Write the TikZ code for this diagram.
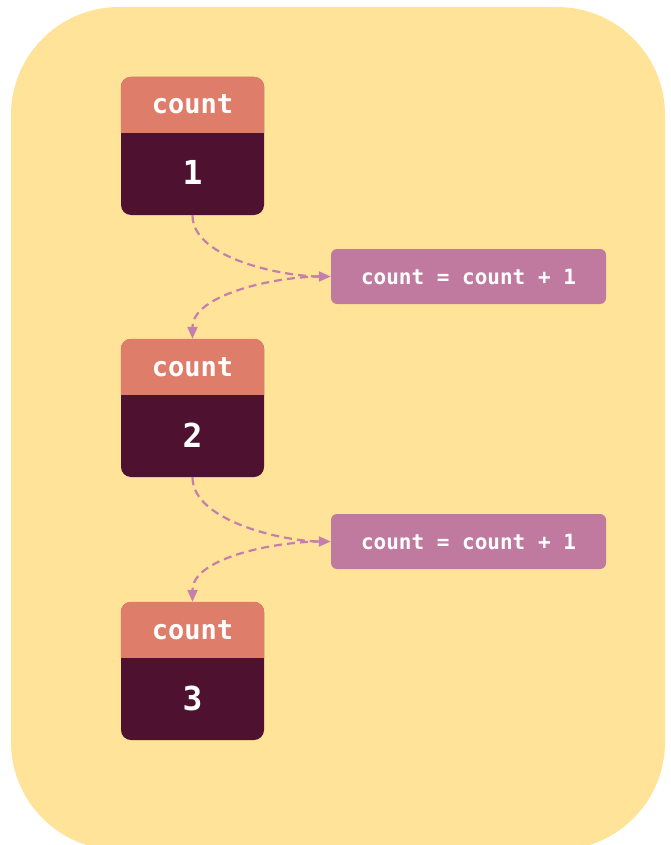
\documentclass[tikz,border=0pt]{standalone}
\usepackage{fontspec}
\setmonofont{DejaVu Sans Mono}
\usetikzlibrary{arrows.meta}
\definecolor{bg}{HTML}{FEE398}
\definecolor{hdr}{HTML}{DF7D6B}
\definecolor{bod}{HTML}{4E1130}
\definecolor{opc}{HTML}{C07AA0}
\definecolor{arr}{HTML}{C47FAA}
\begin{document}
\begin{tikzpicture}[x=1pt,y=-1pt,
 box/.style={fill=bod, rounded corners=10pt, minimum width=143pt, minimum height=138pt, inner sep=0pt},
 hdrtxt/.style={text=white, anchor=base, inner sep=0pt, font=\ttfamily\bfseries\fontsize{27}{27}\selectfont},
 valtxt/.style={text=white, anchor=base, inner sep=0pt, font=\ttfamily\bfseries\fontsize{33}{33}\selectfont},
 opbox/.style={fill=opc, rounded corners=6pt, minimum width=275pt, minimum height=55pt, text=white, font=\ttfamily\bfseries\fontsize{21}{21}\selectfont, inner sep=0pt},
 flow/.style={draw=arr, line width=2.2pt, dash pattern=on 8pt off 5pt, -{Triangle[length=12pt,width=10pt]}}]
\useasboundingbox (0,0) rectangle (670,845);
\clip (0,0) rectangle (670,845);
\fill[bg, rounded corners=108pt] (11,7) rectangle (665,850);
% boxes
\foreach \n/\y/\v in {1/0/1, 2/262/2, 3/525/3}{
  \node[box] (b\n) at (192.5,146+\y) {};
  \fill[hdr] ([yshift=-56pt]b\n.north west) [rounded corners=10pt] |- (b\n.north east) [sharp corners] -- ([yshift=-56pt]b\n.north east) -- cycle;
  \node[hdrtxt] (h\n) at (192.5,114+\y) {count};
  \node[valtxt] (v\n) at (192.5,185+\y) {\v};
}
\node[opbox] (o1) at (468.5,276.5) {count = count + 1};
\node[opbox] (o2) at (468.5,541.5) {count = count + 1};
\draw[flow] (b1.south) to[out=-90,in=180,looseness=0.75] (o1.west);
\draw[flow] ([xshift=-10pt]o1.west) to[out=180,in=90,looseness=0.8] (b2.north);
\draw[flow] (b2.south) to[out=-90,in=180,looseness=0.75] (o2.west);
\draw[flow] ([xshift=-10pt]o2.west) to[out=180,in=90,looseness=0.8] (b3.north);
\end{tikzpicture}
\end{document}
